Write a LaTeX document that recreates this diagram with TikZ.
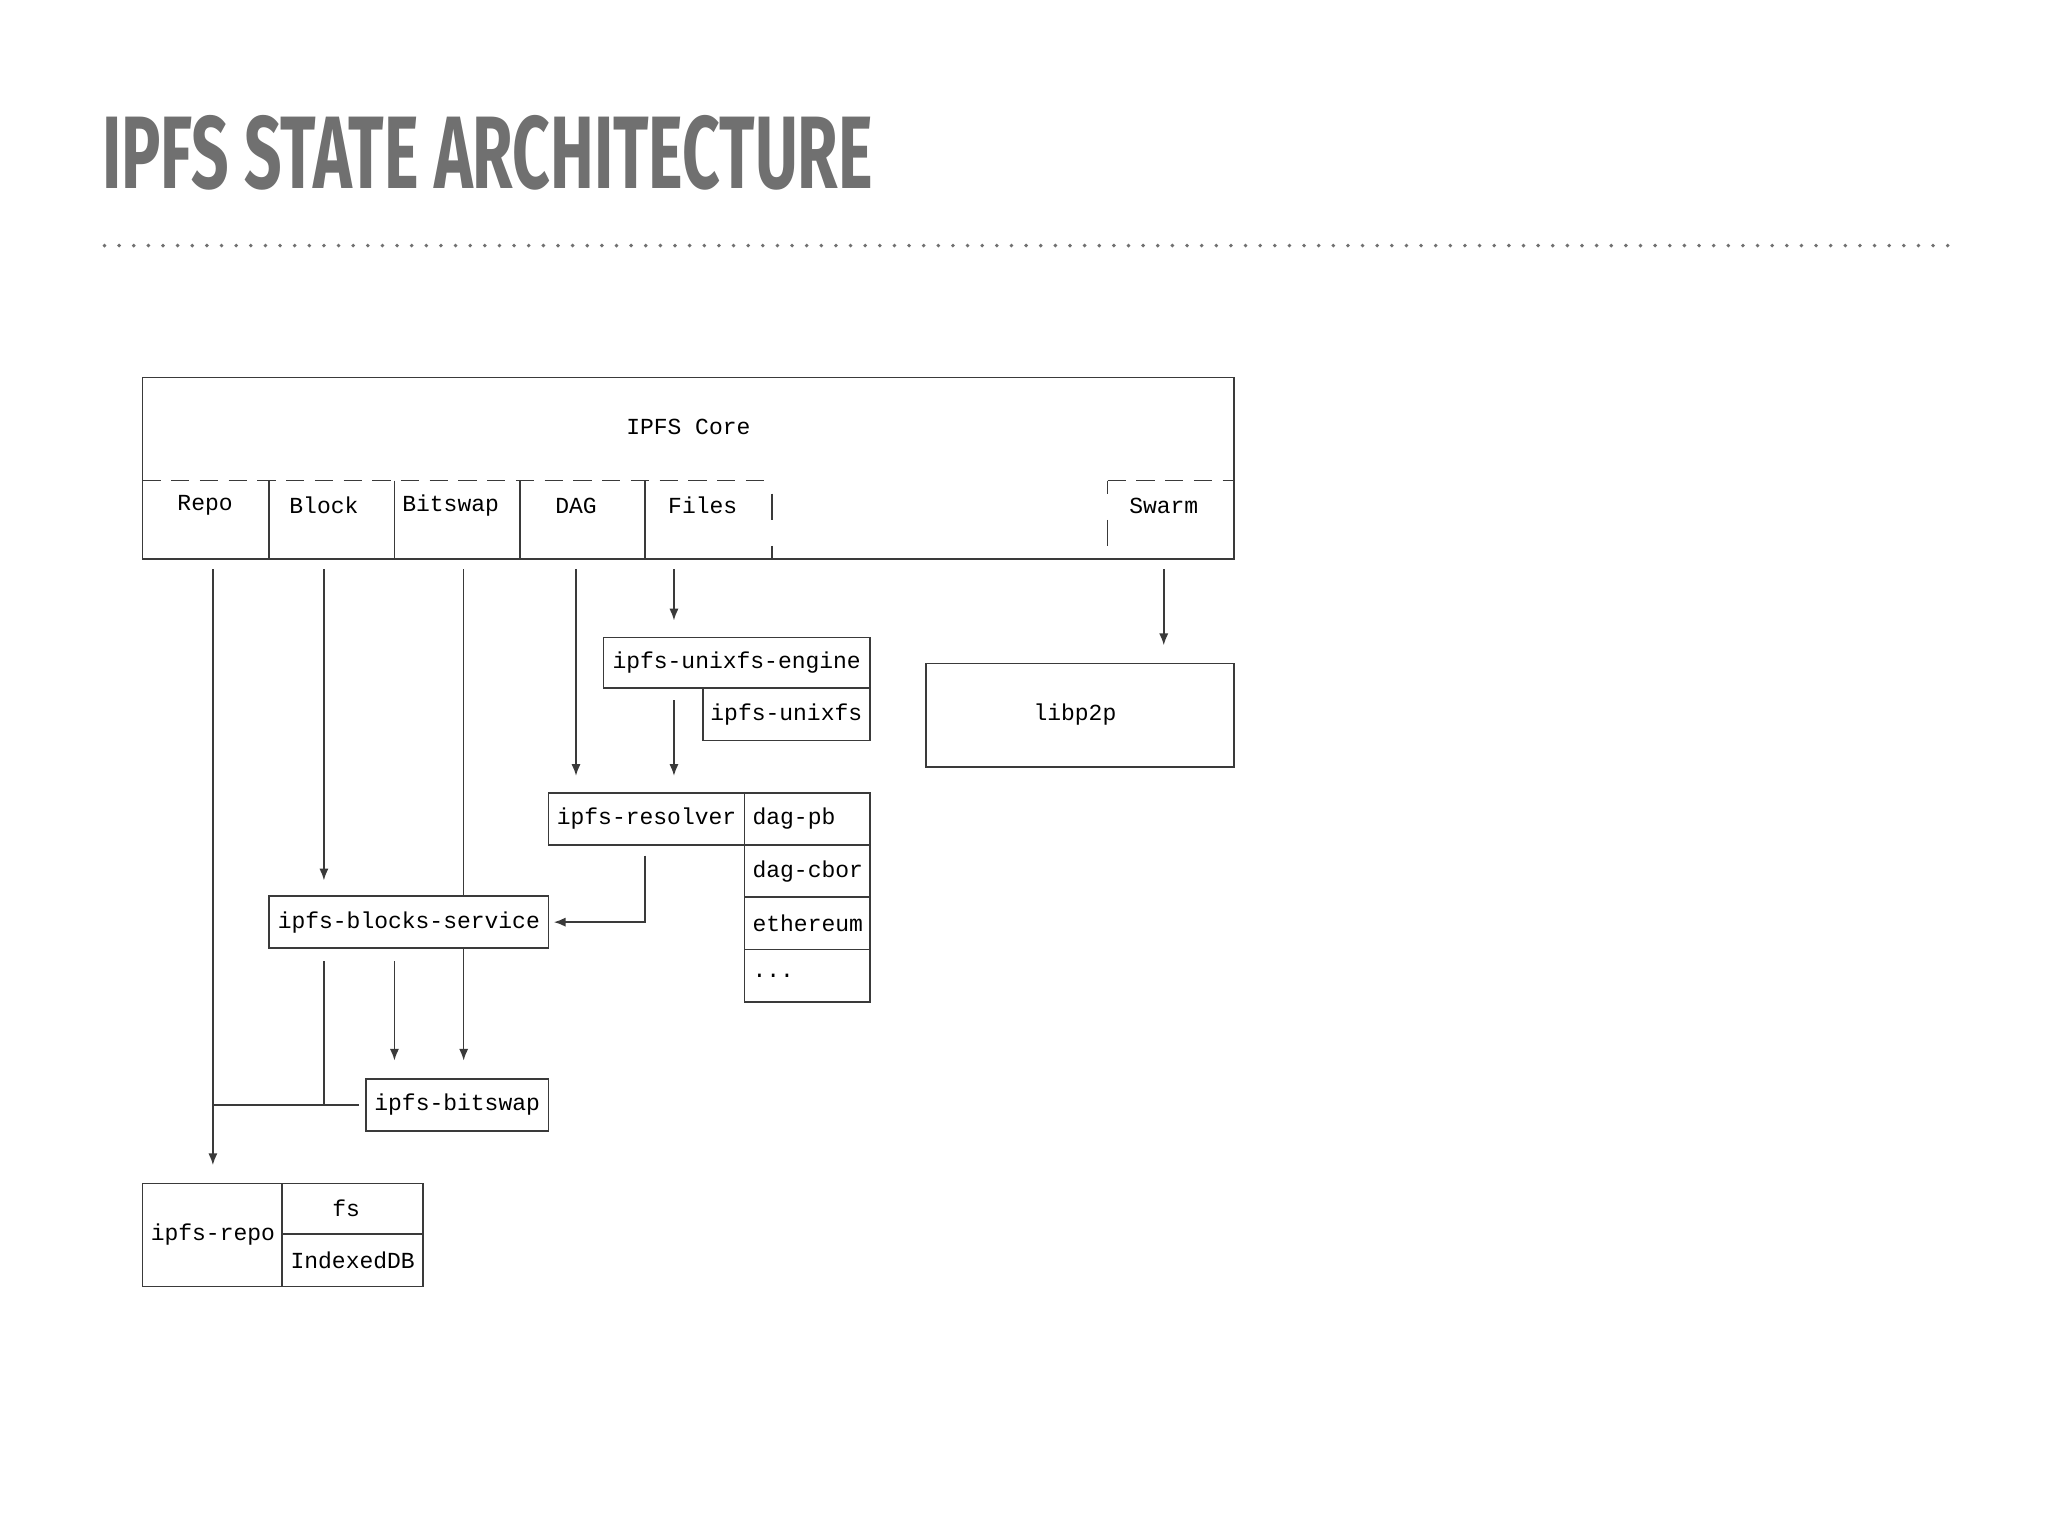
\documentclass[tikz,border=0pt]{standalone}
\usepackage{fontspec}
\setmonofont{Liberation Mono}
\newfontfamily\titlefont{Fira Sans}
\usetikzlibrary{arrows.meta}
\definecolor{ln}{HTML}{3A3A3A}
\definecolor{tgray}{HTML}{707070}
\begin{document}
\begin{tikzpicture}[x=1pt,y=-1pt,
  bx/.style={draw=ln,line width=1.3pt},
  lbl/.style={font=\fontsize{17.6}{18}\selectfont\ttfamily,text=black,inner sep=0},
  ar/.style={draw=ln,line width=1.2pt,-{Latex[length=9pt,width=7pt]}},
  pl/.style={draw=ln,line width=1.2pt}]
\useasboundingbox[fill=white] (0,0) rectangle (1568,1176);
\node[anchor=south west,inner sep=0,text=tgray] (title) at (78,146) {\resizebox{590pt}{56pt}{\titlefont\bfseries IPFS STATE ARCHITECTURE}};
\draw[tgray,line width=3pt,line cap=round,dash pattern=on 0pt off 11.2pt] (80,188) -- (1492,188);
% core
\draw[bx] (109,289) rectangle (945,428);
\node[lbl] (core) at (527,327) {IPFS Core};
\draw[pl,dash pattern=on 14pt off 8pt] (109,368) -- (590,368);
\draw[pl,dash pattern=on 14pt off 8pt] (848,368) -- (945,368);
\foreach \x in {206,302,398,494} \draw[pl] (\x,368) -- (\x,428);
\draw[pl] (591,378) -- (591,398);
\draw[pl] (591,418) -- (591,428);
\draw[pl] (848,368) -- (848,378);
\draw[pl] (848,398) -- (848,418);
\node[lbl] (repo) at (157,387) {Repo};
\node[lbl] (block) at (248,387) {Block};
\node[lbl] (bitsw) at (345,387) {Bitswap};
\node[lbl] (dag) at (441,387) {DAG};
\node[lbl] (files) at (538,387) {Files};
\node[lbl] (swarm) at (891,387) {Swarm};
% boxes
\draw[bx] (462,488) rectangle (666,527); \node[lbl] (ue) at (564,507) {ipfs-unixfs-engine};
\draw[bx] (538,527) rectangle (666,567); \node[lbl] (ux) at (602,547) {ipfs-unixfs};
\draw[bx] (709,508) rectangle (945,587); \node[lbl] (lp) at (823,547) {libp2p};
\draw[bx] (420,607) rectangle (570,647); \node[lbl] (res) at (495,627) {ipfs-resolver};
\draw[bx] (570,607) rectangle (666,647); \node[lbl,anchor=west] (pb) at (576,627) {dag-pb};
\draw[bx] (570,647) rectangle (666,687); \node[lbl,anchor=west] (cb) at (576,667) {dag-cbor};
\draw[bx] (570,687) rectangle (666,727); \node[lbl,anchor=west] (eth) at (576,707) {ethereum};
\draw[bx] (570,727) rectangle (666,767); \node[lbl,anchor=west] (dots) at (576,747) {...};
\draw[bx] (206,686) rectangle (420,726); \node[lbl] (bs) at (313,706) {ipfs-blocks-service};
\draw[bx] (280,826) rectangle (420,866); \node[lbl] (bw) at (350,846) {ipfs-bitswap};
\draw[bx] (109,906) rectangle (216,985); \node[lbl] (rp) at (163,945) {ipfs-repo};
\draw[bx] (216,906) rectangle (324,945); \node[lbl] (fs) at (265,925) {fs};
\draw[bx] (216,945) rectangle (324,985); \node[lbl] (idb) at (270,965) {IndexedDB};
% connectors
\coordinate (r0) at (163,436); \coordinate (r1) at (163,892);
\draw[ar] (r0) -- (r1);
\coordinate (b0) at (248,436); \coordinate (b1) at (248,674);
\draw[ar] (b0) -- (b1);
\coordinate (w0) at (355,436); \coordinate (w1) at (355,686);
\draw[pl] (w0) -- (w1);
\coordinate (w2) at (355,726); \coordinate (w3) at (355,812);
\draw[ar] (w2) -- (w3);
\coordinate (d0) at (441,436); \coordinate (d1) at (441,594);
\draw[ar] (d0) -- (d1);
\coordinate (f0) at (516,436); \coordinate (f1) at (516,475);
\draw[ar] (f0) -- (f1);
\coordinate (s0) at (891,436); \coordinate (s1) at (891,494);
\draw[ar] (s0) -- (s1);
\coordinate (u0) at (516,536); \coordinate (u1) at (516,594);
\draw[ar] (u0) -- (u1);
\coordinate (q0) at (494,655); \coordinate (q1) at (424,706);
\draw[ar] (q0) |- (q1);
\coordinate (k0) at (302,736); \coordinate (k1) at (302,812);
\draw[ar] (k0) -- (k1);
\coordinate (m0) at (248,736); \coordinate (m1) at (248,846);
\coordinate (m2) at (163,846); \coordinate (m3) at (275,846);
\draw[pl] (m0) -- (m1);
\draw[pl] (m2) -- (m3);
\end{tikzpicture}
\end{document}
